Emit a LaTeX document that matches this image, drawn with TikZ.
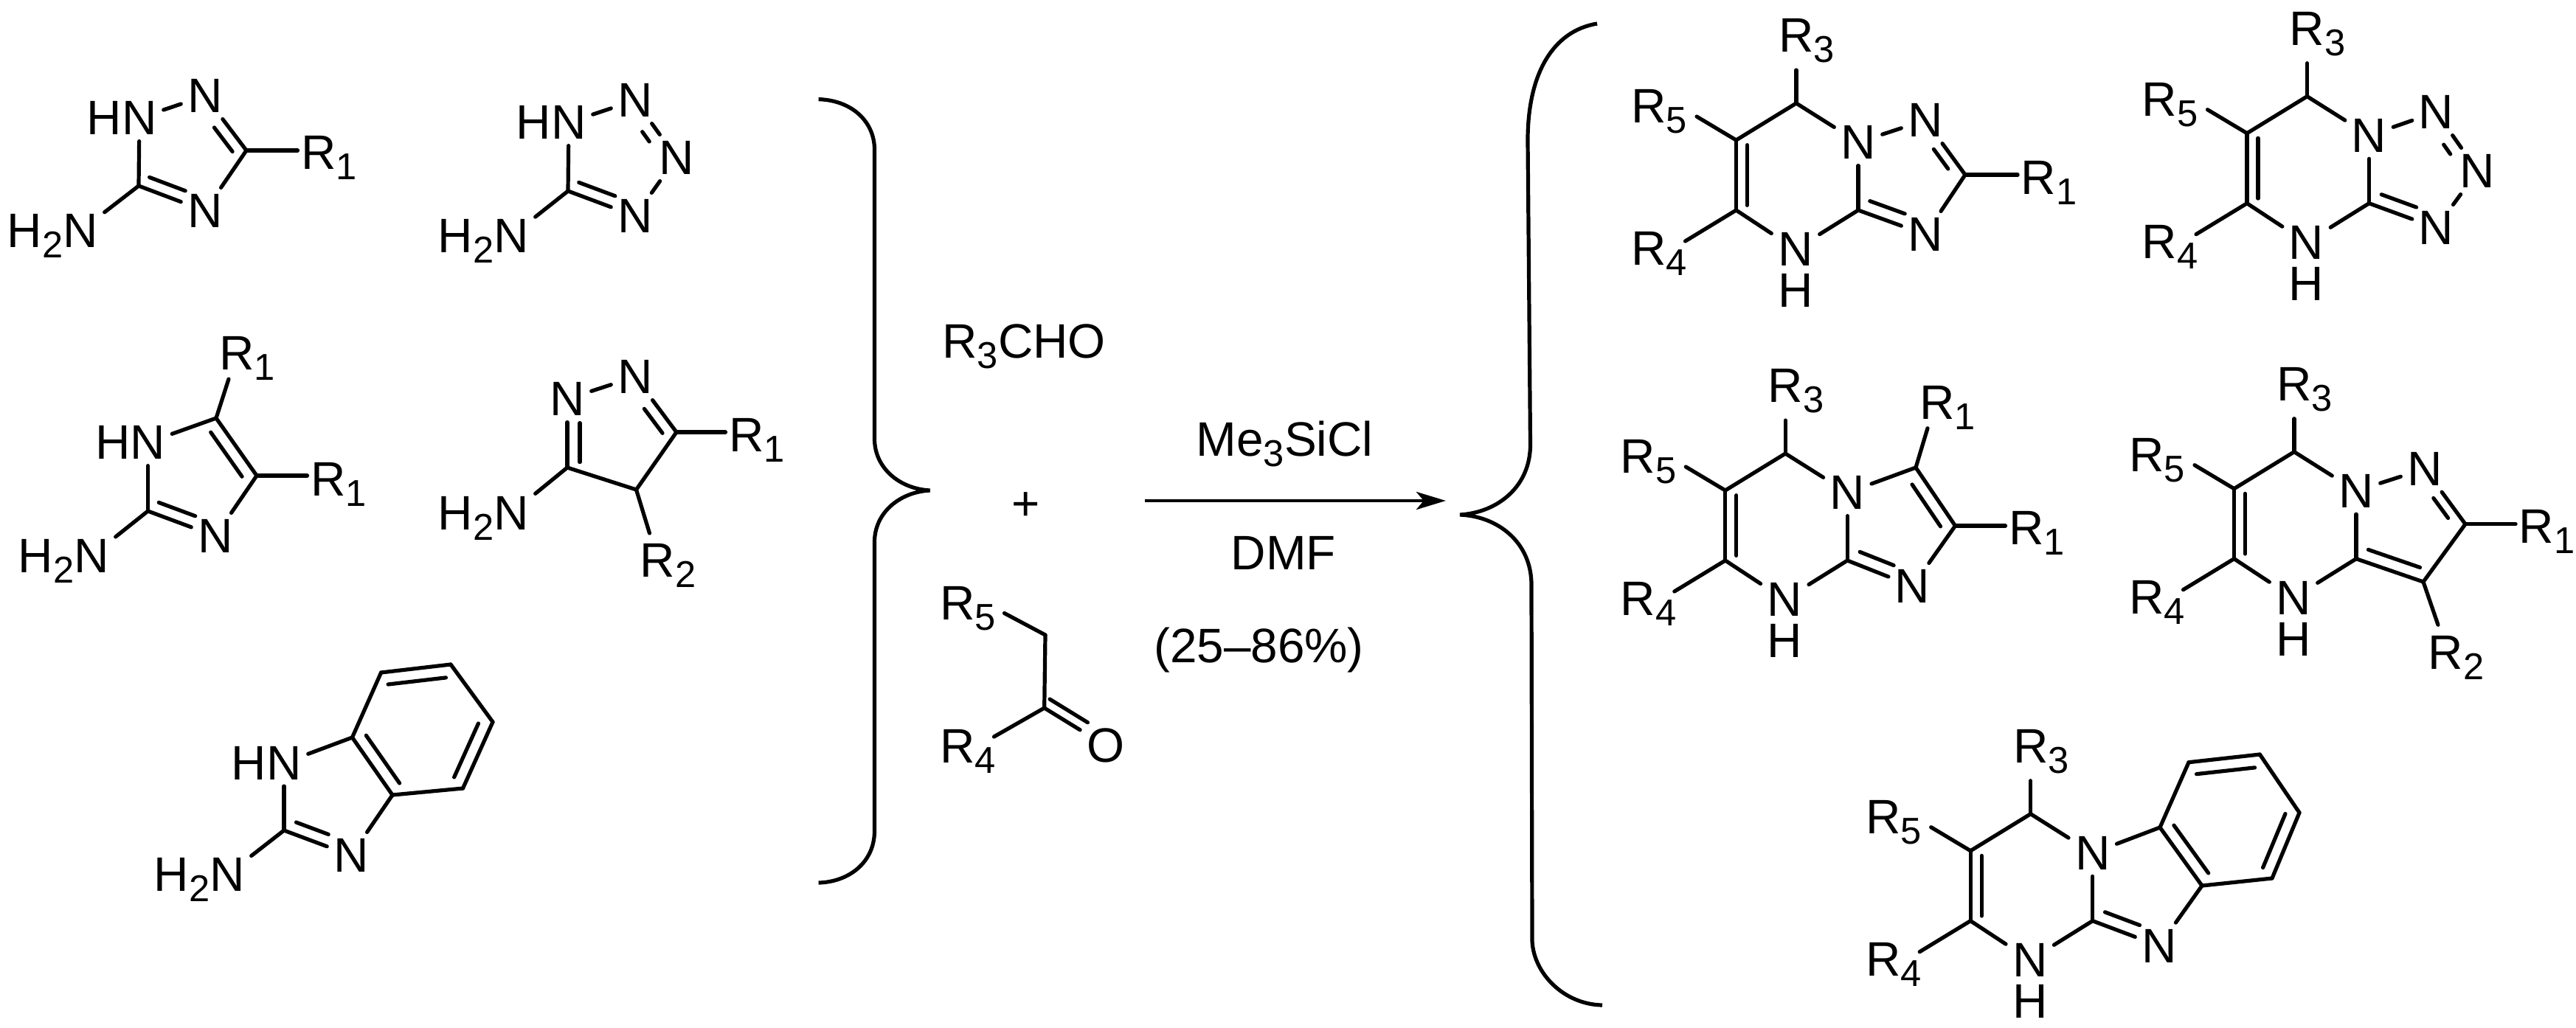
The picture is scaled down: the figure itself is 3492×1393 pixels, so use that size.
\documentclass[tikz,border=0pt]{standalone}
\usepackage{fontspec}
\setmainfont{Liberation Sans}
\usetikzlibrary{calc,arrows.meta}
\newcommand\mainsize{\fontsize{18.66pt}{22pt}\selectfont}
\newcommand\subn[1]{\smash{\raisebox{-.14cm}{\fontsize{14.4pt}{16pt}\selectfont #1}}}
\newcommand\Rr[1]{R\rlap{\subn{#1}}}
\newcommand\Ham{\llap{H\subn{2}}N}
\newcommand\HN{\llap{H}N}
\tikzset{
  atom/.style={inner sep=.09cm,outer sep=0pt,font=\mainsize},
  label text/.style={inner sep=0pt,outer sep=0pt,font=\mainsize},
  bond/.style={line width=.052cm,line cap=round,black},
  bracket/.style={line width=.052cm,black},
  rxn/.style={line width=.048cm,black,-{Stealth[length=.4cm,width=.24cm,inset=.1cm]}}
}
\newcommand\bnd[2]{\draw[bond] (#1) -- (#2);}
\newcommand\bndo[4]{\draw[bond] (#1) -- ($(#2)+(#3,#4)$);}
\newcommand\inn[5]{\draw[bond] ($(#1)!#3!(#2)!#5!90:(#2)$) -- ($(#2)!1-#4!(#1)!#5!-90:(#1)$);}
\newcommand\dbl[5]{\bnd{#1}{#2}\inn{#1}{#2}{#3}{#4}{#5}}
\newcommand\hbnd[3]{\draw[bond] (#1) -- ($(#1 -| #2)+(#3,0)$);}
% fused six-membered ring shared by all products
\newcommand\pyr[3]{
  \coordinate (#1c7) at ({#2+2435},{#3+140});
  \coordinate (#1c6) at ({#2+2353.5},{#3+190});
  \coordinate (#1c5) at ({#2+2353.5},{#3+285});
  \coordinate (#1c3a) at ({#2+2519},{#3+285});
  \node[atom] (#1n8) at ({#2+2519},{#3+193}) {N};
  \node[atom] (#1n4) at ({#2+2434},{#3+338}) {N};
  \node[atom] (#1h) at ({#2+2434},{#3+394}) {H};
  \node[atom] (#1ra) at ({#2+2435},{#3+48}) {\Rr{3}};
  \node[atom] (#1rb) at ({#2+2235},{#3+144}) {\Rr{5}};
  \node[atom] (#1rc) at ({#2+2235},{#3+337}) {\Rr{4}};
  \bnd{#1c7}{#1c6}
  \dbl{#1c6}{#1c5}{.07}{.93}{.15cm}
  \bnd{#1c5}{#1n4}
  \bnd{#1n4}{#1c3a}
  \bnd{#1c3a}{#1n8}
  \bnd{#1n8}{#1c7}
  \bndo{#1c7}{#1ra}{0}{47}
  \bndo{#1c6}{#1rb}{65}{14}
  \bndo{#1c5}{#1rc}{49.5}{-10}
}
\begin{document}
\begin{tikzpicture}[x=.01cm,y=-.01cm]
\useasboundingbox (0,0) rectangle (3492,1393);
\fill[white] (0,0) rectangle (3492,1393);

% --- reactant A: triazole
\node[atom] (an1) at (189,160) {\HN};
\node[atom] (an2) at (278,130) {N};
\coordinate (ac3) at (334,204);
\node[atom] (ar1) at (432,207) {\Rr{1}};
\node[atom] (an4) at (278,286) {N};
\coordinate (ac5) at (188,252);
\node[atom] (anh) at (109,313) {\Ham};
\bnd{an1}{an2}
\dbl{ac3}{an2}{.11}{.55}{.16cm}
\bnd{ac3}{an4}
\dbl{ac5}{an4}{.10}{.64}{.16cm}
\bnd{ac5}{an1}
\hbnd{ac3}{ar1}{-28.5}
\bnd{ac5}{anh}

% --- reactant B: tetrazole
\node[atom] (bn1) at (771,166) {\HN};
\node[atom] (bn2) at (861,136) {N};
\node[atom] (bn3) at (917,214) {N};
\node[atom] (bn4) at (861,293) {N};
\coordinate (bc5) at (770,259);
\node[atom] (bnh) at (693,320) {\Ham};
\bnd{bn1}{bn2}
\dbl{bn2}{bn3}{.42}{.59}{-.17cm}
\bnd{bn3}{bn4}
\dbl{bc5}{bn4}{.10}{.64}{.16cm}
\bnd{bc5}{bn1}
\bnd{bc5}{bnh}

% --- reactant C: imidazole
\node[atom] (cr1) at (321,479) {\Rr{1}};
\coordinate (cc5) at (293,567);
\node[atom] (cn1) at (200.5,600) {\HN};
\coordinate (cc4) at (348,645);
\node[atom] (cr2) at (445,650) {\Rr{1}};
\node[atom] (cn3) at (292,727) {N};
\coordinate (cc2) at (200.5,693);
\node[atom] (cnh) at (124,754) {\Ham};
\bndo{cc5}{cr1}{-11}{35}
\bnd{cc5}{cn1}
\dbl{cc5}{cc4}{.12}{.89}{-.17cm}
\hbnd{cc4}{cr2}{-28.5}
\bnd{cc4}{cn3}
\dbl{cc2}{cn3}{.10}{.64}{.16cm}
\bnd{cc2}{cn1}
\bnd{cc2}{cnh}

% --- reactant D: pyrazoline
\node[atom] (dn1) at (769,541) {N};
\node[atom] (dn2) at (861,511) {N};
\coordinate (dc3) at (917,586);
\node[atom] (dr1) at (1012,590) {\Rr{1}};
\coordinate (dc4) at (862.5,664);
\coordinate (dc5) at (769,634);
\node[atom] (dnh) at (693,696) {\Ham};
\node[atom] (dr2) at (891.5,760) {\Rr{2}};
\bnd{dn1}{dn2}
\dbl{dc3}{dn2}{.11}{.55}{.16cm}
\hbnd{dc3}{dr1}{-28.5}
\bnd{dc3}{dc4}
\bnd{dc4}{dc5}
\dbl{dn1}{dc5}{.35}{.92}{.17cm}
\bnd{dc5}{dnh}
\bndo{dc4}{dr2}{-11}{-37}

% --- reactant E: 2-aminobenzimidazole
\node[atom] (en1) at (385,1034.5) {\HN};
\coordinate (ec7a) at (477.5,1000);
\coordinate (ec3a) at (532,1078);
\coordinate (ec4) at (627.5,1069);
\coordinate (ec5) at (668,979);
\coordinate (ec6) at (611,901);
\coordinate (ec7) at (516.6,912);
\node[atom] (en3) at (476,1160) {N};
\coordinate (ec2) at (385,1126);
\node[atom] (enh) at (308,1186) {\Ham};
\bnd{en1}{ec7a}
\dbl{ec7a}{ec3a}{.09}{.92}{.17cm}
\bnd{ec3a}{ec4}
\dbl{ec4}{ec5}{.09}{.90}{.17cm}
\bnd{ec5}{ec6}
\dbl{ec6}{ec7}{.09}{.92}{.17cm}
\bnd{ec7}{ec7a}
\bnd{ec3a}{en3}
\dbl{ec2}{en3}{.12}{.60}{.16cm}
\bnd{ec2}{en1}
\bnd{ec2}{enh}

% --- left bracket
\draw[bracket] (1109.6,134.6) .. controls (1155,136) and (1185.5,165) .. (1185.5,203) -- (1185.5,595)
  .. controls (1185.5,635) and (1220,663) .. (1260.7,665)
  .. controls (1220,667) and (1185.5,695) .. (1185.5,735) -- (1185.5,1126.6)
  .. controls (1185.5,1170) and (1150,1196) .. (1109.6,1197);

% --- other reagents
\node[label text,anchor=base west] (ald) at (1277.5,485) {R\subn{3}CHO};
\node[label text] (plus) at (1391,687) {+};
\node[atom] (kr5) at (1298,818) {\Rr{5}};
\coordinate (kc1) at (1417,861);
\coordinate (kc2) at (1415.7,960);
\node[atom] (kr4) at (1298,1012) {\Rr{4}};
\node[atom] (ko) at (1498.6,1011) {O};
\bndo{kc1}{kr5}{63.5}{13.5}
\bnd{kc1}{kc2}
\bndo{kc2}{kr4}{49.5}{-13}
\dbl{kc2}{ko}{0}{.62}{.14cm}

% --- arrow and conditions
\coordinate (arS) at (1551.5,679);
\coordinate (arE) at (1960,679);
\draw[rxn] (arS) -- (arE);
\node[label text,anchor=base] (cat) at (1741.6,618) {Me\subn{3}SiCl};
\node[label text,anchor=base] (sol) at (1739.7,772) {DMF};
\node[label text,anchor=base] (yld) at (1706.5,898) {(25–86\%)};

% --- right bracket
\draw[bracket] (2165,32) .. controls (2105,42) and (2071,100) .. (2071,190) -- (2074.5,603)
  .. controls (2074.5,660) and (2030,695) .. (1979,698)
  .. controls (2030,700) and (2076,735) .. (2076,793) -- (2077,1276)
  .. controls (2079,1320) and (2120,1362) .. (2172,1363);

% --- product 1
\pyr{p}{0}{0}
\node[atom] (pn1) at (2610,163) {N};
\coordinate (pc2) at (2664,237);
\node[atom] (pn3) at (2610,318) {N};
\node[atom] (pr1) at (2763.6,241) {\Rr{1}};
\bnd{pn8}{pn1}
\dbl{pc2}{pn1}{.22}{.58}{.14cm}
\bnd{pc2}{pn3}
\hbnd{pc2}{pr1}{-28.5}
\dbl{pc3a}{pn3}{.11}{.63}{.17cm}

% --- product 2
\pyr{q}{692.5}{-9.3}
\node[atom] (qn1) at (3302.5,152) {N};
\node[atom] (qn2) at (3358.6,232) {N};
\node[atom] (qn3) at (3302.5,309) {N};
\bnd{qn8}{qn1}
\dbl{qn1}{qn2}{.43}{.59}{-.17cm}
\bnd{qn2}{qn3}
\dbl{qc3a}{qn3}{.12}{.64}{.17cm}

% --- product 3
\pyr{s}{-14.7}{475}
\coordinate (sc1) at (2597,634);
\coordinate (sc2) at (2650.5,713);
\node[atom] (sn3) at (2592.6,795) {N};
\node[atom] (sr1) at (2625.7,546) {\Rr{1}};
\node[atom] (sr2) at (2747,716) {\Rr{1}};
\bnd{sn8}{sc1}
\bndo{sc1}{sr1}{-12.7}{34.7}
\dbl{sc1}{sc2}{.17}{.89}{-.17cm}
\hbnd{sc2}{sr2}{-28.5}
\bnd{sc2}{sn3}
\dbl{sc3a}{sn3}{.12}{.64}{.17cm}

% --- product 4
\pyr{t}{675}{472.7}
\node[atom] (tn1) at (3287,635.7) {N};
\coordinate (tc2) at (3342,710.7);
\coordinate (tc3) at (3285,789);
\node[atom] (tr1) at (3438.6,714) {\Rr{1}};
\node[atom] (tr2) at (3315.4,885) {\Rr{2}};
\bnd{tn8}{tn1}
\dbl{tc2}{tn1}{.22}{.58}{.14cm}
\hbnd{tc2}{tr1}{-28.5}
\bnd{tc2}{tc3}
\dbl{tc3a}{tc3}{.12}{.89}{.17cm}
\bndo{tc3}{tr2}{-10.4}{-37.7}

% --- product 5
\pyr{u}{317.7}{963.7}
\coordinate (uc9a) at (2928,1122);
\coordinate (uc9b) at (2985,1201);
\coordinate (uc4) at (3080,1191);
\coordinate (uc5) at (3117,1102);
\coordinate (uc6) at (3063.4,1023);
\coordinate (uc7) at (2967,1033.7);
\node[atom] (un3) at (2927,1282.7) {N};
\bnd{un8}{uc9a}
\dbl{uc9a}{uc9b}{.09}{.91}{.17cm}
\bnd{uc9b}{uc4}
\dbl{uc4}{uc5}{.09}{.91}{.17cm}
\bnd{uc5}{uc6}
\dbl{uc6}{uc7}{.09}{.91}{.17cm}
\bnd{uc7}{uc9a}
\bnd{uc9b}{un3}
\dbl{uc3a}{un3}{.12}{.64}{.17cm}
\end{tikzpicture}
\end{document}
